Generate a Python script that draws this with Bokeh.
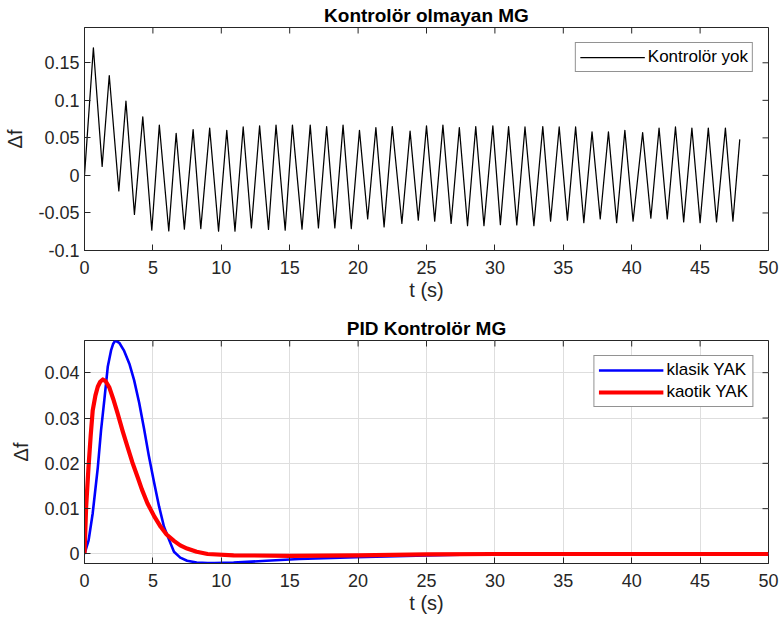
from bokeh.plotting import figure
from bokeh.layouts import column
from bokeh.models import (Range1d, FixedTicker, CustomJSTickFormatter, Legend, LegendItem)
from bokeh.embed import file_html
from bokeh.resources import INLINE
import math

# ---------------- data ----------------
# Top panel: no controller (extrema of the oscillation)
start_t = [0.0]
start_f = [0.0]
peak_t = [0.65, 1.81, 3.03, 4.26, 5.47, 6.7, 7.94, 9.15, 10.4, 11.6, 12.8, 14.0, 15.2,
          16.5, 17.7, 18.9, 20.1, 21.3, 22.5, 23.8, 25.0, 26.2, 27.4, 28.6, 29.85, 31.0,
          32.2, 33.5, 34.7, 35.9, 37.1, 38.3, 39.5, 40.8, 42.0, 43.2, 44.4, 45.6, 46.85]
peak_f = [0.170, 0.133, 0.099, 0.078, 0.067, 0.056, 0.061, 0.063, 0.060, 0.0645, 0.066,
          0.067, 0.067, 0.067, 0.065, 0.067, 0.060, 0.0636, 0.065, 0.059, 0.066, 0.067,
          0.0636, 0.065, 0.066, 0.065, 0.0645, 0.065, 0.0645, 0.0645, 0.058, 0.058, 0.060,
          0.057, 0.063, 0.0645, 0.063, 0.063, 0.063]
trough_t = [1.29, 2.51, 3.65, 4.92, 6.16, 7.3, 8.5, 9.8, 11.0, 12.2, 13.45, 14.67, 15.9,
            17.1, 18.3, 19.5, 20.7, 21.9, 23.2, 24.4, 25.6, 26.8, 28.0, 29.2, 30.4, 31.6,
            32.85, 34.07, 35.3, 36.5, 37.7, 38.9, 40.1, 41.4, 42.6, 43.8, 45.0, 46.2, 47.4]
trough_f = [0.012, -0.0206, -0.052, -0.073, -0.074, -0.0716, -0.0708, -0.0743, -0.0743,
            -0.0699, -0.072, -0.073, -0.0716, -0.070, -0.070, -0.0708, -0.058, -0.0685,
            -0.064, -0.0595, -0.061, -0.064, -0.067, -0.067, -0.0655, -0.066, -0.067,
            -0.061, -0.0595, -0.063, -0.058, -0.063, -0.061, -0.057, -0.058, -0.062,
            -0.063, -0.062, -0.061]
end_t = [47.9]
end_f = [0.048]

# Bottom panel: PID controller
klasik_t = [0, 0.3, 0.6, 0.97, 1.21, 1.45, 1.7, 1.94, 2.1, 2.25, 2.54, 2.9, 3.3, 3.63,
            4.0, 4.36, 4.7, 5.08, 5.45, 5.81, 6.2, 6.54, 7.0, 7.5, 8.2, 9.0, 9.5, 10.9,
            13.3, 15.7, 19.85, 25, 30, 40, 50]
klasik_f = [0, 0.003, 0.009, 0.019, 0.0273, 0.034, 0.0413, 0.0449, 0.0464, 0.0471, 0.0466,
            0.0448, 0.0418, 0.0383, 0.0333, 0.0275, 0.0217, 0.0159, 0.0105, 0.006, 0.003,
            0.0005, -0.0008, -0.0015, -0.0019, -0.0020, -0.0020, -0.0019, -0.0015,
            -0.0011, -0.0007, -0.0003, 0.0, 0.0, 0.0]
kaotik_t = [0, 0.12, 0.29, 0.45, 0.6, 0.8, 0.97, 1.15, 1.34, 1.55, 1.82, 2.1, 2.42, 2.8,
            3.15, 3.5, 3.88, 4.2, 4.6, 5.1, 5.57, 6.0, 6.54, 7.0, 7.5, 8.2, 9.0, 10.9, 15,
            20, 25, 30, 40, 50]
kaotik_f = [0, 0.0104, 0.019, 0.026, 0.0317, 0.035, 0.0369, 0.0380, 0.0385, 0.0381, 0.0367,
            0.0342, 0.031, 0.027, 0.0236, 0.0202, 0.017, 0.0142, 0.0112, 0.0083, 0.006,
            0.0043, 0.0029, 0.0019, 0.0012, 0.0005, 0.0, -0.0003, -0.0004, -0.0003,
            -0.0001, 0.0, 0.0, 0.0]

x_lim = (0, 50)
top_y_lim = (-0.1, 0.197)
bot_y_lim = (-0.0021, 0.0471)
x_ticks = [0, 5, 10, 15, 20, 25, 30, 35, 40, 45, 50]
top_y_ticks = [-0.1, -0.05, 0, 0.05, 0.1, 0.15]
bot_y_ticks = [0, 0.01, 0.02, 0.03, 0.04]

top_title = "Kontrolör olmayan MG"
bot_title = "PID Kontrolör MG"
x_label = "t (s)"
y_label = "Δf"

# build interleaved oscillation
top_t = list(start_t)
top_f = list(start_f)
for a, b, c, d in zip(peak_t, peak_f, trough_t, trough_f):
    top_t += [a, c]
    top_f += [b, d]
top_t += end_t
top_f += end_f

FONT = "Liberation Sans"
AX = "#262626"
fmt = CustomJSTickFormatter(code="return String(Math.round(tick*10000)/10000);")


def style(p, yticks, ylim, grid):
    p.outline_line_color = AX
    p.outline_line_width = 1
    p.background_fill_color = "white"
    p.border_fill_color = "white"
    p.title.text_font = FONT
    p.title.text_font_size = "19px"
    p.title.text_font_style = "bold"
    p.title.text_color = "black"
    p.title.align = "center"
    p.title.standoff = 3
    p.xaxis.ticker = FixedTicker(ticks=x_ticks)
    p.yaxis.ticker = FixedTicker(ticks=yticks)
    p.yaxis.formatter = fmt
    p.xaxis.axis_label = x_label
    p.yaxis.axis_label = y_label
    for ax in (p.xaxis[0], p.yaxis[0]):
        ax.axis_line_color = AX
        ax.major_tick_line_color = AX
        ax.major_tick_in = 6
        ax.major_tick_out = 0
        ax.minor_tick_line_color = None
        ax.major_label_text_font = FONT
        ax.major_label_text_font_size = "18px"
        ax.major_label_text_color = AX
        ax.axis_label_text_font = FONT
        ax.axis_label_text_font_size = "20px"
        ax.axis_label_text_font_style = "normal"
        ax.axis_label_text_color = AX
    p.xaxis.major_label_standoff = 10
    p.xaxis.axis_label_standoff = 2
    p.yaxis.major_label_standoff = 5
    p.yaxis.axis_label_standoff = 9
    # inward tick marks on the top and right edges of the box (clipped to the frame)
    p.scatter(x_ticks, [ylim[1]] * len(x_ticks), marker="dash", angle=math.pi / 2,
              size=12, line_color=AX, line_width=1)
    p.scatter([x_lim[1]] * len(yticks), yticks, marker="dash", size=12,
              line_color=AX, line_width=1)
    if grid:
        p.xgrid.ticker = FixedTicker(ticks=x_ticks)
        p.ygrid.ticker = FixedTicker(ticks=yticks)
        p.xgrid.grid_line_color = "#dedede"
        p.ygrid.grid_line_color = "#dedede"
        p.xgrid.grid_line_width = 1
        p.ygrid.grid_line_width = 1
    else:
        p.xgrid.grid_line_color = None
        p.ygrid.grid_line_color = None


def make_legend(items):
    return Legend(items=items, location="top_right", margin=15, padding=4, spacing=2,
                  label_text_font=FONT, label_text_font_size="17px", label_text_color="black",
                  glyph_width=65, glyph_height=20, label_height=20, label_standoff=3,
                  border_line_color=AX, border_line_width=1, background_fill_alpha=1)


# ---------------- top figure ----------------
p1 = figure(width=781, height=314, title=top_title, x_range=Range1d(*x_lim),
            y_range=Range1d(*top_y_lim), output_backend="svg", toolbar_location=None,
            min_border_left=84, min_border_right=13, min_border_top=27, min_border_bottom=64)
style(p1, top_y_ticks, top_y_lim, grid=False)
r0 = p1.line(top_t, top_f, line_color="black", line_width=1.25, line_join="round")
p1.add_layout(make_legend([LegendItem(label="Kontrolör yok", renderers=[r0])]))

# ---------------- bottom figure ----------------
p2 = figure(width=781, height=307, title=bot_title, x_range=Range1d(*x_lim),
            y_range=Range1d(*bot_y_lim), output_backend="svg", toolbar_location=None,
            min_border_left=84, min_border_right=13, min_border_top=26, min_border_bottom=58)
style(p2, bot_y_ticks, bot_y_lim, grid=True)
r1 = p2.line(klasik_t, klasik_f, line_color="#0000ff", line_width=2.6, line_join="round")
r2 = p2.line(kaotik_t, kaotik_f, line_color="#ff0000", line_width=4.2, line_join="round")
p2.add_layout(make_legend([LegendItem(label="klasik YAK", renderers=[r1]),
                           LegendItem(label="kaotik YAK", renderers=[r2])]))

layout = column(p1, p2, spacing=0)
open("out.html", "w").write(file_html(layout, INLINE))
